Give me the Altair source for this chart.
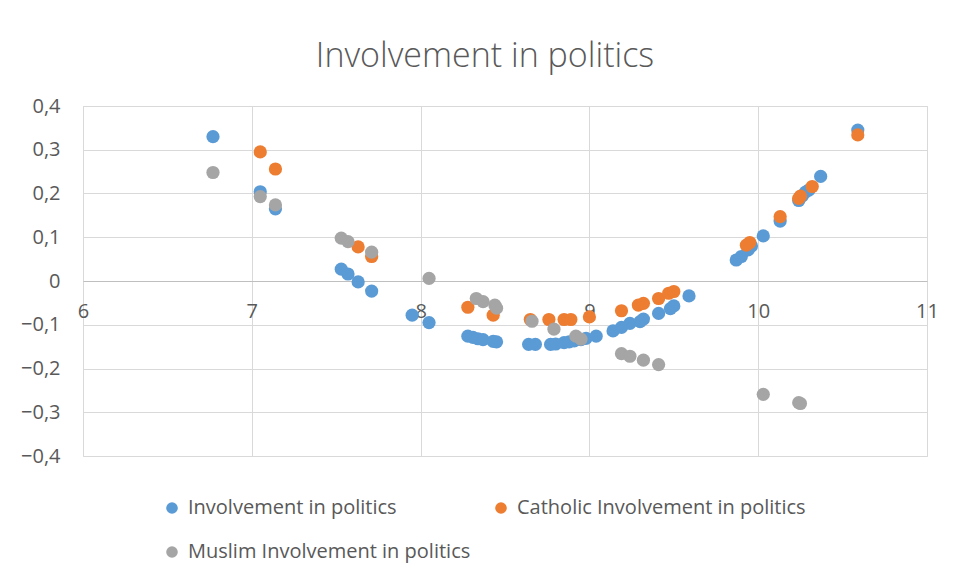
import altair as alt
import pandas as pd

# ---- data ----
all_x = [6.77, 7.05, 7.14, 7.53, 7.57, 7.63, 7.71, 7.95, 8.05,
         8.28, 8.31, 8.34, 8.37, 8.43, 8.45,
         8.64, 8.68, 8.77, 8.80, 8.85, 8.88, 8.91, 8.95, 8.98, 9.04,
         9.14, 9.19, 9.24, 9.30, 9.32, 9.41, 9.48, 9.50, 9.59,
         9.87, 9.90, 9.94, 9.96, 10.03, 10.13, 10.24, 10.26, 10.28, 10.30, 10.37, 10.59]
all_y = [0.330, 0.204, 0.165, 0.027, 0.016, -0.002, -0.023, -0.078, -0.095,
         -0.126, -0.129, -0.132, -0.134, -0.138, -0.139,
         -0.145, -0.145, -0.145, -0.144, -0.141, -0.139, -0.137, -0.134, -0.131, -0.126,
         -0.114, -0.106, -0.097, -0.093, -0.087, -0.074, -0.063, -0.057, -0.034,
         0.048, 0.056, 0.071, 0.080, 0.103, 0.137, 0.184, 0.194, 0.203, 0.208, 0.239, 0.345]

cat_x = [7.05, 7.14, 7.63, 7.71, 8.28, 8.43, 8.65, 8.76, 8.85, 8.89, 9.00,
         9.19, 9.29, 9.32, 9.41, 9.47, 9.50, 9.93, 9.95, 10.13, 10.24, 10.25, 10.32, 10.59]
cat_y = [0.295, 0.256, 0.078, 0.056, -0.060, -0.078, -0.088, -0.088, -0.088, -0.088, -0.082,
         -0.068, -0.055, -0.051, -0.040, -0.028, -0.024, 0.082, 0.088, 0.147, 0.189, 0.194, 0.216, 0.334]

mus_x = [6.77, 7.05, 7.14, 7.53, 7.57, 7.71, 8.05, 8.33, 8.37, 8.44, 8.45,
         8.66, 8.79, 8.92, 8.95, 9.19, 9.24, 9.32, 9.41, 10.03, 10.24, 10.25]
mus_y = [0.248, 0.193, 0.174, 0.098, 0.090, 0.066, 0.006, -0.040, -0.047, -0.055, -0.062,
         -0.092, -0.110, -0.126, -0.133, -0.166, -0.172, -0.181, -0.191, -0.259, -0.278, -0.280]

series = ["Involvement in politics", "Catholic Involvement in politics",
          "Muslim Involvement in politics"]
colors = ["#5B9BD5", "#ED7D31", "#A5A5A5"]

rows = []
for name, xs, ys in [(series[0], all_x, all_y), (series[1], cat_x, cat_y), (series[2], mus_x, mus_y)]:
    for xv, yv in zip(xs, ys):
        rows.append({"x": xv, "y": yv, "series": name})
df = pd.DataFrame(rows)
df["ord"] = df["series"].map({s: i for i, s in enumerate(series)})

W, H = 844, 350
FONT = "Open Sans"
TXT = "#595959"
GRID = "#D9D9D9"
FS = 20

chart = alt.Chart(df).mark_circle(size=175, opacity=1).encode(
    x=alt.X("x:Q", scale=alt.Scale(domain=[6, 11], nice=False, zero=False),
            axis=alt.Axis(values=[6, 7, 8, 9, 10, 11], format="d", title=None,
                          offset=-175, domainColor="#BFBFBF", ticks=False,
                          labelFlush=False, labelPadding=20, labelFontSize=FS,
                          labelColor=TXT, labelFont=FONT, grid=True, gridColor=GRID)),
    y=alt.Y("y:Q", scale=alt.Scale(domain=[-0.4, 0.4], nice=False),
            axis=alt.Axis(values=[-0.4, -0.3, -0.2, -0.1, 0, 0.1, 0.2, 0.3, 0.4],
                          labelExpr="replace(format(datum.value, '.1~f'), '.', ',')",
                          title=None, domain=False, ticks=False, labelPadding=23,
                          labelFontSize=FS, labelColor=TXT, labelFont=FONT,
                          grid=True, gridColor=GRID)),
    color=alt.Color("series:N", scale=alt.Scale(domain=series, range=colors),
                    legend=alt.Legend(title=None, orient="none", legendX=79, legendY=392,
                                      columns=2, direction="horizontal",
                                      symbolType="circle", symbolSize=135,
                                      symbolStrokeWidth=0, symbolOpacity=1,
                                      labelFontSize=FS, labelColor=TXT, labelFont=FONT,
                                      labelOffset=6, columnPadding=20, rowPadding=24,
                                      padding=0, labelLimit=400)),
    order=alt.Order("ord:Q"),
).properties(
    width=W, height=H,
    title=alt.Title("Involvement in politics", fontSize=34, font=FONT, fontWeight=300,
                    color=TXT, anchor="middle", offset=22, dx=-20),
    autosize=alt.AutoSizeParams(type="none"),
    padding={"left": 75, "top": 98, "right": 25, "bottom": 110},
).configure_view(stroke=None).configure(background="white")

chart.save("out.html", embed_options={"renderer": "svg", "actions": False})
